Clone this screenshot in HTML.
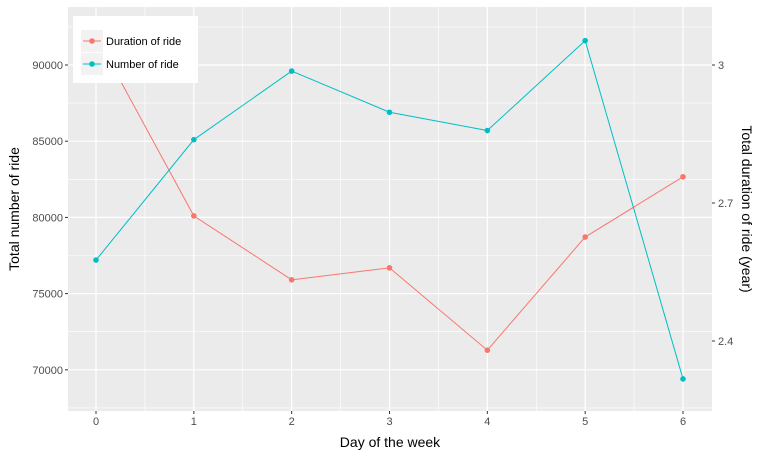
<!DOCTYPE html>
<html><head><meta charset="utf-8"><style>
body{margin:0;background:#fff;font-family:"Liberation Sans",sans-serif}
</style></head><body>
<svg id="c" width="760" height="459" xmlns="http://www.w3.org/2000/svg" font-family="Liberation Sans, sans-serif"></svg>
<script>
const days=[0,1,2,3,4,5,6];
const numberOfRide=[77200,85100,89600,86900,85700,91600,69400];
const durationOfRide=[3.063,2.672,2.533,2.559,2.380,2.626,2.757];
const leftTicks=[70000,75000,80000,85000,90000];
const rightTicks=[2.4,2.7,3];
const NS="http://www.w3.org/2000/svg";
const svg=document.getElementById('c');
const PL=68,PR=712,PT=7,PB=411;
const xs=d=>96+d*(683-96)/6;
const yl=v=>65+(90000-v)*(76.2/5000);
const yr=v=>65+(3-v)*(138/0.3);
function el(t,a,p){const e=document.createElementNS(NS,t);for(const k in a)e.setAttribute(k,a[k]);(p||svg).appendChild(e);return e;}
const bg=el('rect',{x:PL,y:PT,width:PR-PL,height:PB-PT,fill:'#EBEBEB'});


// minor grid
for(let i=0;i<leftTicks.length;i++){const y=yl(leftTicks[i])+38.1;if(y<PB)el('line',{x1:PL,x2:PR,y1:y,y2:y,stroke:'#fff','stroke-width':0.6});}
el('line',{x1:PL,x2:PR,y1:yl(92500),y2:yl(92500),stroke:'#fff','stroke-width':0.6});
for(let d=0;d<6;d++){const x=xs(d+0.5);el('line',{x1:x,x2:x,y1:PT,y2:PB,stroke:'#fff','stroke-width':0.6});}
// major grid & ticks
leftTicks.forEach(v=>{const y=yl(v);el('line',{x1:PL,x2:PR,y1:y,y2:y,stroke:'#fff','stroke-width':1.2});
el('line',{x1:PL-3,x2:PL,y1:y,y2:y,stroke:'#333'});
const t=el('text',{x:PL-5,y:y+4,'text-anchor':'end','font-size':11,fill:'#4D4D4D'});t.textContent=v;

});
days.forEach(d=>{const x=xs(d);el('line',{x1:x,x2:x,y1:PT,y2:PB,stroke:'#fff','stroke-width':1.2});
el('line',{x1:x,x2:x,y1:PB,y2:PB+3,stroke:'#333'});
const t=el('text',{x:x,y:PB+14,'text-anchor':'middle','font-size':11,fill:'#4D4D4D'});t.textContent=d;

});
rightTicks.forEach(v=>{const y=yr(v);el('line',{x1:PR,x2:PR+3,y1:y,y2:y,stroke:'#333'});
const t=el('text',{x:PR+6,y:y+4,'font-size':11,fill:'#4D4D4D'});t.textContent=v;

});
function series(vals,sc,col,name){
 const pts=vals.map((v,i)=>xs(days[i])+','+sc(v)).join(' ');
 const l=el('polyline',{points:pts,fill:'none',stroke:col,'stroke-width':1});
 
 
 vals.forEach((v,i)=>{const c=el('circle',{cx:xs(days[i]),cy:sc(v),r:2.8,fill:col});
 
 });
}
series(durationOfRide,yr,'#F8766D','duration');
series(numberOfRide,yl,'#00BFC4','number');
// legend
const lg=el('g',{});


el('rect',{x:73,y:16,width:125,height:67,fill:'#fff'},lg);
[['Duration of ride','#F8766D',30],['Number of ride','#00BFC4',53]].forEach(([n,c,y])=>{
 el('rect',{x:81,y:y,width:22,height:22,fill:'#F2F2F2'},lg);
 el('line',{x1:83,x2:101,y1:y+11,y2:y+11,stroke:c},lg);
 el('circle',{cx:92,cy:y+11,r:2.8,fill:c},lg);
 const t=el('text',{x:106,y:y+15,'font-size':11,fill:'#000'},lg);t.textContent=n;
 
 
});
const xt=el('text',{x:(PL+PR)/2,y:447,'text-anchor':'middle','font-size':14,fill:'#000'});xt.textContent='Day of the week';


const yt=el('text',{x:0,y:0,'text-anchor':'middle','font-size':14,fill:'#000',transform:'translate(19,209) rotate(-90)'});yt.textContent='Total number of ride';


const yt2=el('text',{x:0,y:0,'text-anchor':'middle','font-size':14,fill:'#000',transform:'translate(742,209) rotate(90)'});yt2.textContent='Total duration of ride (year)';


</script>
</body></html>
